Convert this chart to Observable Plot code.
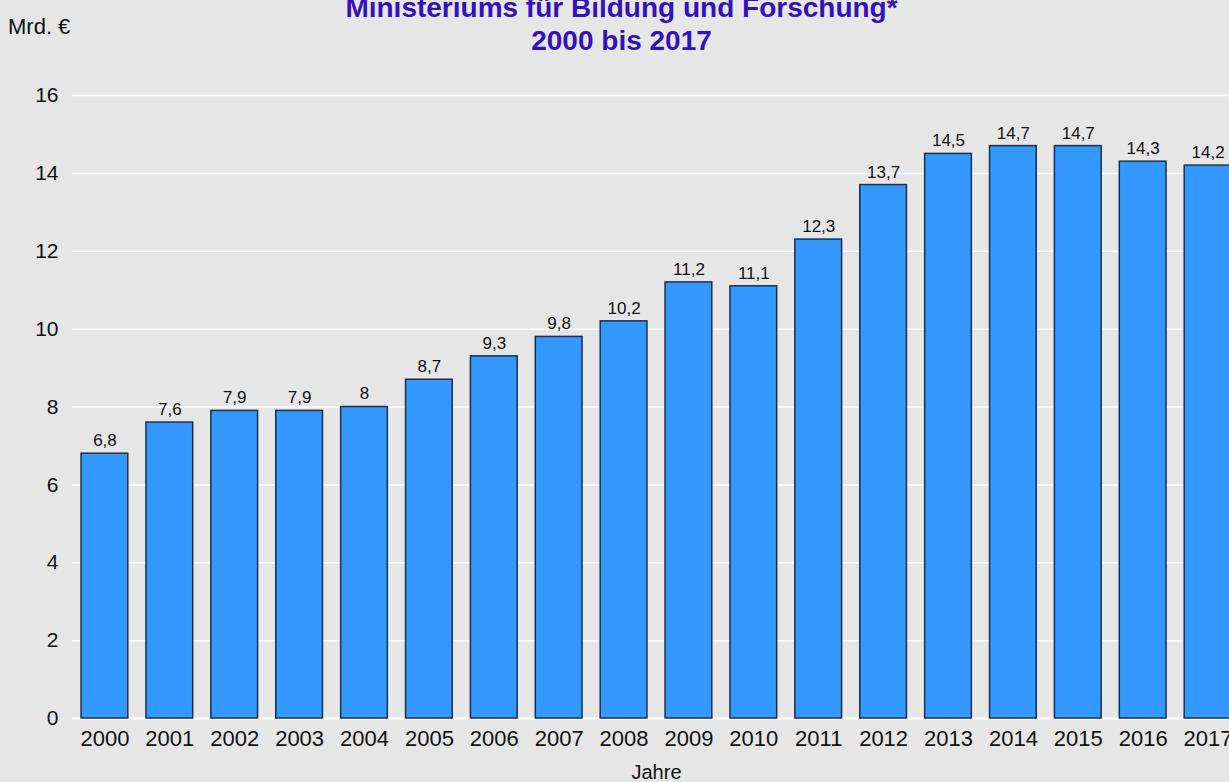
<!DOCTYPE html>
<html>
<head>
<meta charset="utf-8">
<script src="https://cdn.jsdelivr.net/npm/d3@7"></script>
<script src="https://cdn.jsdelivr.net/npm/@observablehq/plot@0.6"></script>
<style>
  html, body { margin: 0; padding: 0; width: 1229px; height: 782px; overflow: hidden; background: #e6e6e6; }
  body { position: relative; font-family: "Liberation Sans", Arial, sans-serif; }
  #title { position: absolute; left: 0; width: 1243px; top: -9px; text-align: center; color: #3311bb; font-weight: bold; font-size: 28px; line-height: 33px; }
  #unit { position: absolute; left: 8px; top: 14px; font-size: 22px; color: #111; }
  #chart { position: absolute; left: 0; top: 0; width: 1240px; }
  #chart svg { max-width: none !important; }
</style>
</head>
<body>
<div id="chart"></div>
<div id="title">Ministeriums für Bildung und Forschung*<br>2000 bis 2017</div>
<div id="unit">Mrd. €</div>
<script>
const years = ["2000","2001","2002","2003","2004","2005","2006","2007","2008","2009","2010","2011","2012","2013","2014","2015","2016","2017"];
const values = [6.8, 7.6, 7.9, 7.9, 8, 8.7, 9.3, 9.8, 10.2, 11.2, 11.1, 12.3, 13.7, 14.5, 14.7, 14.7, 14.3, 14.2];
const yTicks = [0, 2, 4, 6, 8, 10, 12, 14, 16];

const data = years.map((y, i) => ({year: y, value: values[i]}));
const fmt = v => String(v).replace(".", ",");

const chart = Plot.plot({
  width: 1240,
  height: 782,
  marginTop: 95,
  marginBottom: 64,
  marginLeft: 72,
  marginRight: 0,
  style: {background: "transparent", fontFamily: "'Liberation Sans', Arial, sans-serif", color: "#111", maxWidth: "none"},
  x: {domain: years, paddingInner: 0.28, paddingOuter: 0.14, round: false},
  y: {domain: [0, 16]},
  marks: [
    Plot.gridY(yTicks, {stroke: "#ffffff", strokeOpacity: 1, strokeWidth: 1.5}),
    Plot.ruleY([0], {stroke: "#ffffff", strokeWidth: 2}),
    Plot.barY(data, {x: "year", y: "value", fill: "#3399ff", stroke: "#1c2f4a", strokeWidth: 1.5}),
    Plot.text(data, {x: "year", y: "value", text: d => fmt(d.value), dy: -13, fontSize: 17, fill: "#111"}),
    Plot.axisY({ticks: yTicks, tickSize: 0, tickPadding: 14, fontSize: 21, label: null, tickFormat: fmt}),
    Plot.axisX({tickSize: 0, tickPadding: 12, fontSize: 22, label: null}),
    Plot.axisX({ticks: [], tickSize: 0, label: "Jahre", labelAnchor: "center", labelArrow: "none", labelOffset: 60, fontSize: 20})
  ]
});
document.getElementById("chart").append(chart);
</script>
</body>
</html>
